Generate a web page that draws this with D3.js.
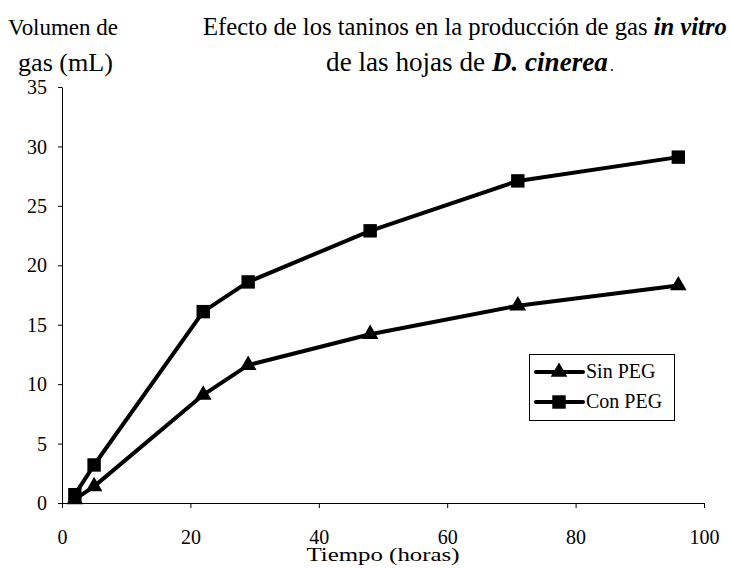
<!DOCTYPE html>
<html><head><meta charset="utf-8">
<script src="https://cdn.jsdelivr.net/npm/d3@7"></script>
</head><body style="margin:0;background:#fff"><svg id="c" width="731" height="568" style="display:block"></svg>
<script>
const hours = [2, 5, 22, 29, 48, 71, 96];
const sinPEG = [0.3, 1.4, 9.1, 11.6, 14.2, 16.6, 18.3];
const conPEG = [0.7, 3.2, 16.1, 18.6, 22.9, 27.1, 29.1];
const xTicks = [0, 20, 40, 60, 80, 100];
const yTicks = [0, 5, 10, 15, 20, 25, 30, 35];
const seriesNames = ["Sin PEG", "Con PEG"];

const FONT = '"Liberation Serif"';
const svg = d3.select("#c");
const x = d3.scaleLinear().domain([0, 100]).range([62, 704]);
const y = d3.scaleLinear().domain([0, 35]).range([503, 87]);

function fit(sel, target) {
  const n = sel.node();
  const fs = parseFloat(sel.style("font-size"));
  const len = n.getComputedTextLength();
  if (len > 0) sel.style("font-size", (fs * target / len).toFixed(2) + "px");
  return sel;
}

const xa = svg.append("g").attr("transform", "translate(0,503)")
  .call(d3.axisBottom(x).tickValues(xTicks).tickSize(5).tickPadding(22).tickSizeOuter(0));
const ya = svg.append("g").attr("transform", "translate(62,0)")
  .call(d3.axisLeft(y).tickValues(yTicks).tickSize(4).tickPadding(11).tickSizeOuter(0));
[xa, ya].forEach(a => {
  a.attr("font-family", null).attr("font-size", null);
  a.selectAll("path,line").attr("stroke", "#000").attr("stroke-width", 1);
  a.selectAll("text").style("font-family", FONT).style("font-size", "20px").attr("fill", "#000");
});
ya.selectAll("text").attr("dy", "0.33em");

const line = d3.line().x((d, i) => x(hours[i])).y(d => y(d));
[sinPEG, conPEG].forEach(s => {
  svg.append("path").datum(s).attr("d", line).attr("fill", "none")
    .attr("stroke", "#000").attr("stroke-width", 4).attr("stroke-linejoin", "round");
});
const tri = d3.symbol().type(d3.symbolTriangle).size(120);
const sq = d3.symbol().type(d3.symbolSquare).size(180);
svg.append("g").selectAll("path").data(sinPEG).join("path")
  .attr("d", tri).attr("transform", (d, i) => `translate(${x(hours[i])},${y(d)})`).attr("fill", "#000");
svg.append("g").selectAll("path").data(conPEG).join("path")
  .attr("d", sq).attr("transform", (d, i) => `translate(${x(hours[i])},${y(d)})`).attr("fill", "#000");

function txt(xp, yp, s, size, anchor) {
  return svg.append("text").attr("x", xp).attr("y", yp).attr("text-anchor", anchor || "start")
    .style("font-family", FONT).style("font-size", size + "px").attr("fill", "#000").text(s);
}
// y-axis title (two lines)
fit(txt(8, 35, "Volumen de", 22), 110);
fit(txt(18, 71, "gas (mL)", 22), 95);
// chart title
const t1 = svg.append("text").attr("x", 203).attr("y", 35)
  .style("font-family", FONT).style("font-size", "22px").attr("fill", "#000");
t1.append("tspan").text("Efecto de los taninos en la producción de gas ");
t1.append("tspan").attr("font-weight", "bold").attr("font-style", "italic").text("in vitro");
fit(t1, 524);
const t2 = svg.append("text").attr("x", 470).attr("y", 71).attr("text-anchor", "middle")
  .style("font-family", FONT).style("font-size", "22px").attr("fill", "#000");
t2.append("tspan").text("de las hojas de ");
t2.append("tspan").attr("font-weight", "bold").attr("font-style", "italic").text("D. cinerea");
t2.append("tspan").attr("dx", 2).style("font-size", "0.6em").text(".");
fit(t2, 286);
// x-axis title (wide-set, as in the reference)
txt(383, 561, "Tiempo (horas)", 19, "middle")
  .attr("textLength", 153).attr("lengthAdjust", "spacingAndGlyphs");

// legend
const lg = svg.append("g");
lg.append("rect").attr("x", 529.5).attr("y", 354.5).attr("width", 145).attr("height", 66)
  .attr("fill", "#fff").attr("stroke", "#000").attr("stroke-width", 1);
seriesNames.forEach((n, i) => {
  const yy = 372 + i * 30;
  lg.append("line").attr("x1", 536).attr("x2", 583).attr("y1", yy).attr("y2", yy)
    .attr("stroke", "#000").attr("stroke-width", 4).attr("stroke-linecap", "round");
  lg.append("path").attr("d", i === 0 ? tri : sq).attr("transform", `translate(559,${yy})`).attr("fill", "#000");
  lg.append("text").attr("x", 586).attr("y", yy + 6).style("font-family", FONT)
    .style("font-size", "20px").attr("fill", "#000").text(n);
});
</script></body></html>
